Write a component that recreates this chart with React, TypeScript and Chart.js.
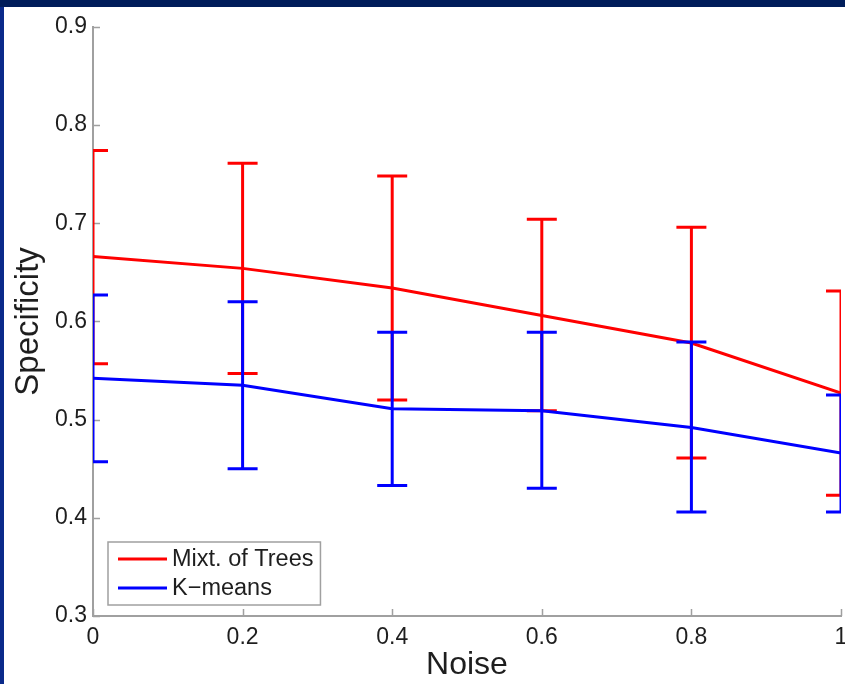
import React, { useEffect, useRef } from "react";
import { Chart, registerables } from "chart.js";

Chart.register(...registerables);

// ---- data ----
const noise = [0, 0.2, 0.4, 0.6, 0.8, 1];

const treesMean = [0.666, 0.654, 0.634, 0.606, 0.578, 0.527];
const treesUpper = [0.774, 0.761, 0.748, 0.704, 0.696, 0.631];
const treesLower = [0.557, 0.547, 0.52, 0.509, 0.461, 0.423];

const kmeansMean = [0.542, 0.535, 0.511, 0.509, 0.492, 0.466];
const kmeansUpper = [0.627, 0.62, 0.589, 0.589, 0.579, 0.525];
const kmeansLower = [0.457, 0.45, 0.433, 0.43, 0.406, 0.406];

const seriesNames = ["Mixt. of Trees", "K\u2212means"];
const seriesColors = ["#ff0000", "#0000ff"];

const xTickValues = [0, 0.2, 0.4, 0.6, 0.8, 1];
const xTickLabels = ["0", "0.2", "0.4", "0.6", "0.8", "1"];
const yTickValues = [0.3, 0.4, 0.5, 0.6, 0.7, 0.8, 0.9];
const yTickLabels = ["0.3", "0.4", "0.5", "0.6", "0.7", "0.8", "0.9"];

const xTitle = "Noise";
const yTitle = "Specificity";

const errorData = [
  { lower: treesLower, upper: treesUpper },
  { lower: kmeansLower, upper: kmeansUpper },
];

const FONT = "'Liberation Sans', Arial, Helvetica, sans-serif";
const AXIS_COLOR = "#a0a0a0";
const TEXT_COLOR = "#1e1e1e";

function labelFor(values: number[], labels: string[], v: number) {
  const i = values.findIndex((t) => Math.abs(t - v) < 1e-6);
  return i >= 0 ? labels[i] : "";
}

const errorBarPlugin = {
  id: "errorBars",
  afterDatasetDraw(chart: any, args: any) {
    const err = errorData[args.index];
    if (!err) return;
    const { ctx, chartArea } = chart;
    const xs = chart.scales.x;
    const ys = chart.scales.y;
    const color = chart.data.datasets[args.index].borderColor;
    ctx.save();
    ctx.beginPath();
    ctx.rect(chartArea.left, chartArea.top - 3, chartArea.right - chartArea.left, chartArea.bottom - chartArea.top + 6);
    ctx.clip();
    ctx.strokeStyle = color;
    ctx.lineWidth = 3;
    ctx.lineCap = "butt";
    noise.forEach((xv, i) => {
      const px = xs.getPixelForValue(xv);
      const top = ys.getPixelForValue(err.upper[i]);
      const bot = ys.getPixelForValue(err.lower[i]);
      ctx.beginPath();
      ctx.moveTo(px, top);
      ctx.lineTo(px, bot);
      ctx.moveTo(px - 15, top);
      ctx.lineTo(px + 15, top);
      ctx.moveTo(px - 15, bot);
      ctx.lineTo(px + 15, bot);
      ctx.stroke();
    });
    ctx.restore();
  },
};

const innerTicksPlugin = {
  id: "innerTicks",
  beforeDatasetsDraw(chart: any) {
    const { ctx, chartArea } = chart;
    const xs = chart.scales.x;
    const ys = chart.scales.y;
    ctx.save();
    ctx.strokeStyle = AXIS_COLOR;
    ctx.lineWidth = 1.5;
    ctx.beginPath();
    yTickValues.forEach((v) => {
      const py = Math.round(ys.getPixelForValue(v)) + 0.5;
      ctx.moveTo(chartArea.left, py);
      ctx.lineTo(chartArea.left + 7, py);
    });
    xTickValues.forEach((v) => {
      const px = Math.round(xs.getPixelForValue(v)) + 0.5;
      ctx.moveTo(px, chartArea.bottom);
      ctx.lineTo(px, chartArea.bottom - 7);
    });
    ctx.stroke();
    ctx.restore();
  },
};

const legendPlugin = {
  id: "customLegend",
  afterDraw(chart: any) {
    const { ctx, chartArea } = chart;
    ctx.save();
    ctx.font = `23.5px ${FONT}`;
    const textW = Math.max(...seriesNames.map((n) => ctx.measureText(n).width));
    const boxLeft = chartArea.left + 15;
    const boxH = 63;
    const boxBottom = chartArea.bottom - 11;
    const boxTop = boxBottom - boxH;
    const lineStart = boxLeft + 10;
    const lineEnd = lineStart + 49;
    const textX = lineEnd + 5;
    const boxW = textX + textW + 7 - boxLeft;
    ctx.fillStyle = "#ffffff";
    ctx.fillRect(boxLeft, boxTop, boxW, boxH);
    ctx.strokeStyle = AXIS_COLOR;
    ctx.lineWidth = 1.5;
    ctx.strokeRect(boxLeft, boxTop, boxW, boxH);
    const rowYs = [boxTop + 17, boxTop + 46];
    seriesNames.forEach((name, i) => {
      const ry = rowYs[i];
      ctx.strokeStyle = seriesColors[i];
      ctx.lineWidth = 3;
      ctx.beginPath();
      ctx.moveTo(lineStart, ry);
      ctx.lineTo(lineEnd, ry);
      ctx.stroke();
      ctx.fillStyle = TEXT_COLOR;
      ctx.textBaseline = "middle";
      ctx.textAlign = "left";
      ctx.fillText(name, textX, ry + 1);
    });
    ctx.restore();
  },
};

export default function App() {
  const canvasRef = useRef<HTMLCanvasElement | null>(null);

  useEffect(() => {
    if (!canvasRef.current) return;
    const chart = new Chart(canvasRef.current, {
      type: "line",
      data: {
        datasets: [
          {
            label: seriesNames[0],
            data: noise.map((x, i) => ({ x, y: treesMean[i] })),
            borderColor: seriesColors[0],
            backgroundColor: seriesColors[0],
            borderWidth: 3,
            pointRadius: 0,
            tension: 0,
            fill: false,
            order: 1,
          },
          {
            label: seriesNames[1],
            data: noise.map((x, i) => ({ x, y: kmeansMean[i] })),
            borderColor: seriesColors[1],
            backgroundColor: seriesColors[1],
            borderWidth: 3,
            pointRadius: 0,
            tension: 0,
            fill: false,
            order: 0,
          },
        ],
      },
      options: {
        responsive: false,
        animation: false,
        devicePixelRatio: 1,
        layout: { padding: { top: 19, right: 33, bottom: 0, left: 0 } },
        plugins: {
          legend: { display: false },
          tooltip: { enabled: false },
        },
        scales: {
          x: {
            type: "linear",
            min: 0,
            max: 1,
            afterFit: (s: any) => {
              s.height = 68;
            },
            afterBuildTicks: (s: any) => {
              s.ticks = xTickValues.map((v) => ({ value: v }));
            },
            ticks: {
              callback: (v: any) => labelFor(xTickValues, xTickLabels, Number(v)),
              font: { family: FONT, size: 23 },
              color: TEXT_COLOR,
              padding: 8,
              maxRotation: 0,
              autoSkip: false,
            },
            grid: { display: true, drawOnChartArea: false, drawTicks: false },
            border: { display: true, color: AXIS_COLOR, width: 2 },
            title: {
              display: true,
              text: xTitle,
              font: { family: FONT, size: 32 },
              color: TEXT_COLOR,
              padding: { top: 0, bottom: 0 },
            },
          },
          y: {
            type: "linear",
            min: 0.3,
            max: 0.9,
            afterFit: (s: any) => {
              s.width = 89;
            },
            afterBuildTicks: (s: any) => {
              s.ticks = yTickValues.map((v) => ({ value: v }));
            },
            ticks: {
              callback: (v: any) => labelFor(yTickValues, yTickLabels, Number(v)),
              font: { family: FONT, size: 23 },
              color: TEXT_COLOR,
              padding: 6,
              autoSkip: false,
            },
            grid: { display: true, drawOnChartArea: false, drawTicks: false },
            border: { display: true, color: AXIS_COLOR, width: 2 },
            title: {
              display: true,
              text: yTitle,
              font: { family: FONT, size: 33 },
              color: TEXT_COLOR,
              padding: { top: 5, bottom: 0 },
            },
          },
        },
      },
      plugins: [innerTicksPlugin, errorBarPlugin, legendPlugin],
    } as any);
    return () => chart.destroy();
  }, []);

  return (
    <div
      style={{
        position: "fixed",
        left: 0,
        top: 0,
        width: 845,
        height: 684,
        overflow: "hidden",
        background: "#0a2a8a",
      }}
    >
      <div style={{ position: "absolute", left: 0, top: 0, width: 845, height: 7, background: "#001d5a" }} />
      <div style={{ position: "absolute", left: 4, top: 7, width: 870, height: 677, background: "#ffffff" }}>
        <canvas ref={canvasRef} width={870} height={677} style={{ display: "block", width: 870, height: 677 }} />
      </div>
    </div>
  );
}
